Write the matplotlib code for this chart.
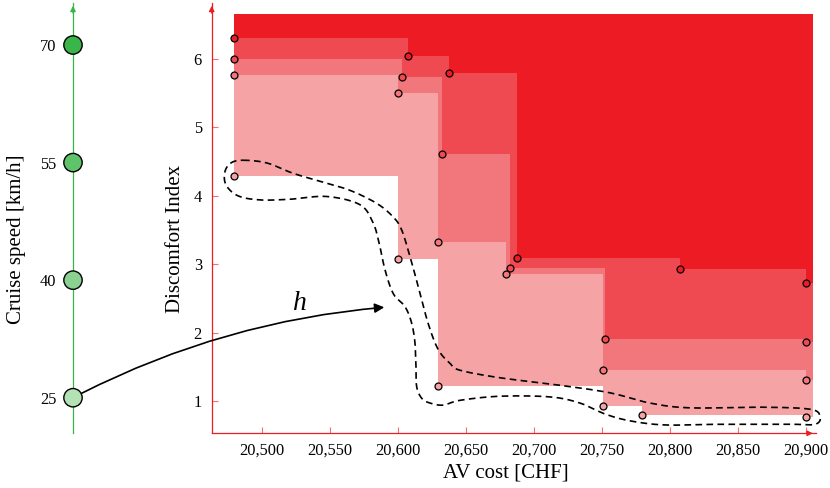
#Pareto fronts of AV cost vs discomfort for the cruise speeds

import numpy as np
import matplotlib
matplotlib.use('Agg')
import matplotlib.pyplot as plt
from matplotlib.ticker import FuncFormatter

plt.rcParams['font.family'] = ['Liberation Serif', 'DejaVu Serif']

# fronts, darkest (top) first
front1_x = [20480, 20607.7, 20637.4, 20687.4, 20807.2, 20900]
front1_y = [6.31, 6.05, 5.80, 3.09, 2.93, 2.73]
front2_x = [20480, 20603, 20632.7, 20682.7, 20752.5, 20900]
front2_y = [6.00, 5.73, 4.61, 2.95, 1.90, 1.86]
front3_x = [20480, 20600, 20629.6, 20679.5, 20750.8, 20900]
front3_y = [5.76, 5.51, 3.33, 2.86, 1.45, 1.30]
front4_x = [20480, 20600, 20629.6, 20750.8, 20779.7, 20900]
front4_y = [4.29, 3.08, 1.22, 0.92, 0.79, 0.76]

front_colors = ['#ed1c24', '#ef4a52', '#f2777c', '#f6a3a6']

speeds = [25, 40, 55, 70]
speed_colors = ['#b3e3b4', '#8bd292', '#5ec36a', '#39b54a']

x_ticks = [20500, 20550, 20600, 20650, 20700, 20750, 20800, 20850, 20900]
y_ticks = [1, 2, 3, 4, 5, 6]

# outline of the dashed region (data coords)
blob_x = [20486.3, 20503.9, 20523.0, 20545.0, 20564.9, 20584.5, 20596.7, 20602.9,
          20609.0, 20615.1, 20622.4, 20629.8, 20638.4, 20645.7, 20675.1, 20719.2,
          20755.9, 20785.3, 20814.7, 20866.2, 20902.9, 20910.3, 20906.6, 20888.3,
          20836.8, 20796.4, 20770.7, 20752.3, 20733.9, 20711.9, 20675.1, 20645.7,
          20633.5, 20623.7, 20617.6, 20613.9, 20613.4, 20612.7, 20610.2, 20605.3,
          20596.7, 20590.6, 20586.9, 20582.0, 20572.2, 20547.8, 20520.9, 20498.8,
          20482.6, 20473.8, 20473.0, 20477.4]
blob_y = [4.52, 4.48, 4.33, 4.20, 4.08, 3.89, 3.69, 3.50,
          3.11, 2.67, 2.13, 1.75, 1.55, 1.45, 1.34, 1.23,
          1.12, 0.97, 0.90, 0.91, 0.88, 0.77, 0.66, 0.66,
          0.66, 0.65, 0.71, 0.81, 0.97, 1.06, 1.07, 1.01,
          0.94, 0.97, 1.04, 1.21, 1.50, 1.84, 2.14, 2.38,
          2.57, 2.92, 3.26, 3.60, 3.87, 3.99, 3.95, 3.94,
          4.00, 4.16, 4.35, 4.48]

red = '#ed1c24'
green = '#39b54a'
x_max = 20905
y_max = 6.66

W, H = 830, 488
fig = plt.figure(figsize=(8.3, 4.88), dpi=100)

ax_bottom = (H - 433.3) / H
ax_height = (433.3 - 3) / H
ax = fig.add_axes([211.7 / W, ax_bottom, (815.6 - 211.7) / W, ax_height])
ax.set_xlim(20463.3, 20907)
ax.set_ylim(0.528, 6.819)


def stair(xs, ys):
    px = [xs[0]]
    py = [y_max]
    for i in range(len(xs)):
        px.append(xs[i])
        py.append(ys[i])
        if i + 1 < len(xs):
            px.append(xs[i + 1])
            py.append(ys[i])
    px += [x_max, x_max]
    py += [ys[-1], y_max]
    return px, py


fronts = [(front4_x, front4_y, front_colors[3]),
          (front3_x, front3_y, front_colors[2]),
          (front2_x, front2_y, front_colors[1]),
          (front1_x, front1_y, front_colors[0])]

for fx, fy, c in fronts:
    px, py = stair(fx, fy)
    ax.fill(px, py, color=c, lw=0, zorder=1)

for fx, fy, c in fronts:
    ax.plot(fx, fy, 'o', ms=5, mfc=c, mec='black', mew=0.9, ls='none',
            zorder=5, clip_on=False)

# dashed blob, closed catmull-rom
P = np.column_stack([blob_x, blob_y])
n = len(P)
curve = []
for i in range(n):
    p0, p1, p2, p3 = P[(i - 1) % n], P[i], P[(i + 1) % n], P[(i + 2) % n]
    for t in np.linspace(0, 1, 12, endpoint=False):
        t2 = t * t
        t3 = t2 * t
        pt = 0.5 * ((2 * p1) + (-p0 + p2) * t + (2 * p0 - 5 * p1 + 4 * p2 - p3) * t2
                    + (-p0 + 3 * p1 - 3 * p2 + p3) * t3)
        curve.append(pt)
curve.append(curve[0])
curve = np.array(curve)
ax.plot(curve[:, 0], curve[:, 1], color='black', lw=1.2, ls=(0, (4, 2.6)),
        zorder=6, clip_on=False)

# axes styling
for s in ['top', 'right']:
    ax.spines[s].set_visible(False)
for s in ['left', 'bottom']:
    ax.spines[s].set_color(red)
    ax.spines[s].set_linewidth(0.9)
ax.set_xticks(x_ticks)
ax.set_yticks(y_ticks)
ax.xaxis.set_major_formatter(FuncFormatter(lambda v, p: '{:,.0f}'.format(v)))
ax.tick_params(direction='in', length=4.5, width=0.8, color='#f07075',
               labelsize=11.8, labelcolor='black')
ax.tick_params(axis='x', pad=6.5)
ax.tick_params(axis='y', pad=7)
ax.annotate('', xy=(0, 1), xytext=(0, 0.97), xycoords='axes fraction',
            arrowprops=dict(arrowstyle='-|>', color=red, lw=0.9, mutation_scale=8))
ax.annotate('', xy=(1, 0), xytext=(0.98, 0), xycoords='axes fraction',
            arrowprops=dict(arrowstyle='-|>', color=red, lw=0.9, mutation_scale=8))

# cruise speed axis
axl = fig.add_axes([73 / W, ax_bottom, 0.05, ax_height])
axl.set_xlim(0, 1)
axl.set_ylim(20.46, 75.36)
for s in ['top', 'right', 'bottom']:
    axl.spines[s].set_visible(False)
axl.spines['left'].set_color(green)
axl.spines['left'].set_linewidth(0.9)
axl.patch.set_visible(False)
axl.set_xticks([])
axl.set_yticks(speeds)
axl.tick_params(axis='y', length=0, pad=12, labelsize=11.8)
axl.scatter([0] * len(speeds), speeds, s=175, c=speed_colors, edgecolors='black',
            linewidths=1, zorder=5, clip_on=False)
axl.annotate('', xy=(0, 1), xytext=(0, 0.97), xycoords='axes fraction',
             arrowprops=dict(arrowstyle='-|>', color=green, lw=0.9, mutation_scale=8))

# mapping arrow h
ax.annotate('', xy=(20590.1, 2.37), xycoords='data',
            xytext=(0, speeds[0]), textcoords=axl.transData,
            arrowprops=dict(arrowstyle='-|>', color='black', lw=1.2,
                            mutation_scale=14, shrinkA=7, shrinkB=0,
                            connectionstyle='arc3,rad=-0.1'),
            zorder=7)
ax.text(20528, 2.43, 'h', fontsize=20, fontstyle='italic', ha='center', va='center')

fig.text(506 / W, 1 - 473 / H, 'AV cost [CHF]', fontsize=15, ha='center', va='center')
fig.text(175 / W, 1 - 239 / H, 'Discomfort Index', fontsize=15, rotation=90,
         ha='center', va='center')
fig.text(17 / W, 1 - 239 / H, 'Cruise speed [km/h]', fontsize=15, rotation=90,
         ha='center', va='center')

plt.savefig('out.png', dpi=100)
plt.close()
